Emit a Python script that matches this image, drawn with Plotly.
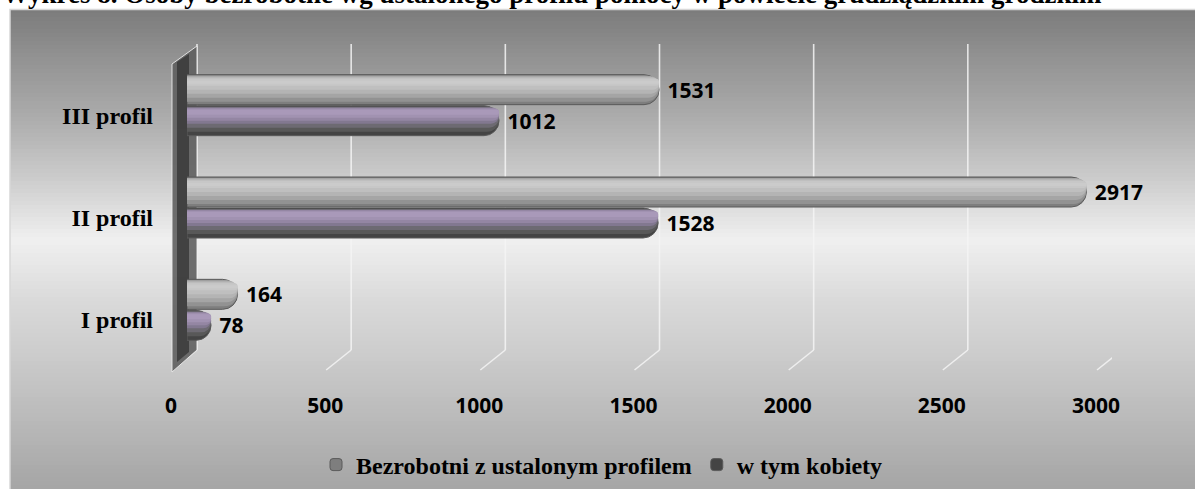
import plotly.graph_objects as go

# ---------------- data ----------------
categories = ["I profil", "II profil", "III profil"]
series_total_name = "Bezrobotni z ustalonym profilem"
series_total = [164, 2917, 1531]
series_women_name = "w tym kobiety"
series_women = [78, 1528, 1012]
x_ticks = [0, 500, 1000, 1500, 2000, 2500, 3000]
title_text = "Wykres 8. Osoby bezrobotne wg ustalonego profilu pomocy w powiecie grudziądzkim grodzkim"

# ---------------- geometry helpers ----------------
W, H = 1195, 489
L, R, T, B = 187, 83, 54, 128
PW, PH = W - L - R, H - T - B
XMAX = 3000
PX_PER_UNIT = PW / XMAX
CAT_PX = PH / len(categories)


def px_x(px):
    return (px - L) / PW


def px_y(py):
    return (H - B - py) / PH


def cat_units(px):
    return px / CAT_PX


def hexc(c):
    c = c.lstrip("#")
    return tuple(int(c[i:i + 2], 16) for i in (0, 2, 4))


def lerp_color(stops, py):
    for (y0, c0), (y1, c1) in zip(stops, stops[1:]):
        if y0 <= py <= y1:
            t = (py - y0) / (y1 - y0) if y1 > y0 else 0
            a, b = hexc(c0), hexc(c1)
            return "rgb(%d,%d,%d)" % tuple(round(a[i] + (b[i] - a[i]) * t) for i in range(3))
    return stops[-1][1]


shapes = []

# background gradient box
bg_stops = [(9, "#7b7b7b"), (60, "#939393"), (120, "#adadad"), (180, "#cdcdcd"),
            (240, "#f0f0f0"), (300, "#dadada"), (380, "#c5c5c5"), (489, "#a5a5a5")]
step = 4
py = 9
while py < H:
    shapes.append(dict(type="rect", xref="paper", yref="paper", layer="below",
                       x0=px_x(10), x1=px_x(W + 2), y0=px_y(py), y1=px_y(min(py + step + 0.6, H + 1)),
                       fillcolor=lerp_color(bg_stops, py + step / 2), line=dict(width=0)))
    py += step
shapes.append(dict(type="rect", xref="paper", yref="paper", layer="below",
                   x0=px_x(10), x1=px_x(W + 5), y0=px_y(H + 5), y1=px_y(9.5),
                   fillcolor="rgba(0,0,0,0)", line=dict(color="#d8d8d8", width=1.5)))

# gridlines (back wall vertical + floor diagonal stubs)
GRID_OFF = 10 / PX_PER_UNIT
DIAG = 25 / PX_PER_UNIT
for v in x_ticks:
    xv = v + GRID_OFF
    shapes.append(dict(type="line", xref="x", yref="paper", layer="below",
                       x0=xv, x1=xv, y0=px_y(44), y1=px_y(350),
                       line=dict(color="rgba(245,245,245,0.85)", width=1.6)))
    shapes.append(dict(type="line", xref="x", yref="paper", layer="below",
                       x0=xv, x1=xv - DIAG, y0=px_y(350), y1=px_y(370),
                       line=dict(color="rgba(245,245,245,0.85)", width=1.6)))

# left wall (dark strip with light edge)
wall = "M %f,%f L %f,%f L %f,%f L %f,%f Z" % (
    px_x(172), px_y(64), px_x(197), px_y(46), px_x(197), px_y(350), px_x(172), px_y(372))
shapes.append(dict(type="path", xref="paper", yref="paper", layer="below", path=wall,
                   fillcolor="rgba(95,95,95,0.9)", line=dict(color="rgba(235,235,235,0.9)", width=1)))
wall_in = "M %f,%f L %f,%f L %f,%f L %f,%f Z" % (
    px_x(177), px_y(62), px_x(189), px_y(54), px_x(189), px_y(352), px_x(177), px_y(362))
shapes.append(dict(type="path", xref="paper", yref="paper", layer="below", path=wall_in,
                   fillcolor="rgba(55,55,55,0.8)", line=dict(width=0)))

# ---------------- traces ----------------
label_font = dict(family="Open Sans", size=21, color="black", weight="bold")
BAR_PX = 30
GAP_PX = 1

# shading layers: (top inset px, bottom inset px, colour) – nested to fake a cylinder
total_layers = [(0, 0, "#7e7e7e"), (1, 3, "#929292"), (1, 7, "#a5a5a5"), (2, 11, "#b4b4b4"),
                (3, 15, "#bfbfbf"), (4, 19, "#c7c7c7"), (6, 21, "#cbcbcb")]
women_layers = [(0, 0, "#444444"), (1, 4, "#585858"), (1, 8, "#6d6a72"), (2, 12, "#827890"),
                (2, 15, "#9486a3"), (3, 18, "#a192b1"), (4, 21, "#a999b9")]

fig = go.Figure()


def add_series(values, name, layers, upper, rank):
    # bar occupies [lo, hi] px relative to category centre (positive = up)
    if upper:
        lo, hi = GAP_PX / 2, GAP_PX / 2 + BAR_PX
    else:
        lo, hi = -GAP_PX / 2 - BAR_PX, -GAP_PX / 2
    for i, (ti, bi, col) in enumerate(layers):
        l0, h0 = lo + bi, hi - ti
        base = i == 0
        fig.add_trace(go.Bar(
            y=categories, x=values, name=name, orientation="h",
            offset=cat_units(l0), width=cat_units(h0 - l0),
            marker=dict(color=col, line=dict(color="#5a5a5a" if base else col, width=1 if base else 0)),
            text=values if base else None,
            texttemplate="\u00a0%{x}" if base else None,
            textposition="outside" if base else "none",
            textfont=label_font, cliponaxis=False,
            showlegend=base, legendrank=rank, hoverinfo="x+name" if base else "skip",
        ))


add_series(series_total, series_total_name, total_layers, True, 1)
add_series(series_women, series_women_name, women_layers, False, 2)

fig.update_layout(
    width=W, height=H,
    margin=dict(l=L, r=R, t=T, b=B, autoexpand=False),
    paper_bgcolor="white", plot_bgcolor="rgba(0,0,0,0)",
    barmode="overlay", barcornerradius="50%",
    shapes=shapes,
    showlegend=True,
    legend=dict(orientation="h", xanchor="left", yanchor="middle",
                x=px_x(316), y=px_y(465), bgcolor="rgba(0,0,0,0)",
                font=dict(family="Liberation Serif", size=24, color="black", weight="bold"),
                itemwidth=30, traceorder="normal"),
    xaxis=dict(range=[0, XMAX], tickvals=x_ticks, showgrid=False, zeroline=False,
               showline=False, ticks="", ticklabelstandoff=30, ticklabelshift=-16,
               tickfont=dict(family="Open Sans", size=21, color="black", weight="bold")),
    yaxis=dict(categoryorder="array", categoryarray=categories, showgrid=False,
               zeroline=False, showline=False, ticks="", ticklabelstandoff=33,
               ticklabelshift=10,
               tickfont=dict(family="Liberation Serif", size=24, color="black", weight="bold")),
    annotations=[dict(text=title_text, xref="paper", yref="paper", x=px_x(0), y=px_y(11),
                      xanchor="left", yanchor="bottom", showarrow=False,
                      font=dict(family="Liberation Serif", size=27, color="black", weight="bold"))],
)

fig.write_html("out.html", config={"displayModeBar": False},
               post_script="document.body.style.margin='0';")
